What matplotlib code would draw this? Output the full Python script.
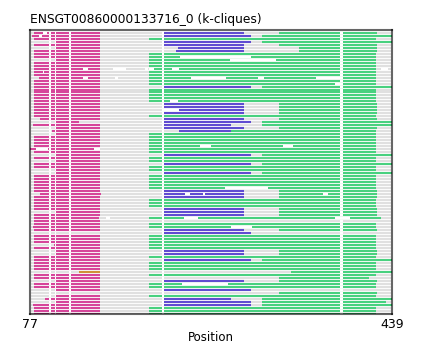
import matplotlib
matplotlib.use("Agg")
from matplotlib import pyplot as plt

# colours of the clique groups
cores = {
    'm': '#d6459a',   # magenta
    'g': '#48d17f',   # green
    'b': '#604cd1',   # blue
    'o': '#cf9038',   # gold
    'fundo': '#e0e0e0',
}

titulo = 'ENSGT00860000133716_0 (k-cliques)'
x_min, x_max = 77, 439

# start of the magenta block for each sequence (None = no magenta block)
inicio_mag = [81, 79, 81, 103, 81, 102, 81, 81, 81, 102,
              81, 81, 81, 81, 81, 86, 81, 81, 81, 81,
              81, 81, 81, 81, 81, 81, 81, 81, 81, 87,
              103, 80, 102, 99, 103, 81, 81, 81, 81, 76,
              81, 102, 81, 102, 81, 81, 102, 102, 81, 81,
              81, 81, 81, 81, 87, 81, 81, 81, 81, 81,
              102, 81, 81, 81, 81, 80, 81, None, 81, 81,
              81, 101, 81, 102, 102, 81, 81, 81, 81, 81,
              None, 81, 81, 102, 81, 81, 103, None, 103, 92,
              103, 80, 81, 81, 81]

# end of the magenta block (mostly 147)
fim_mag = {30: 126, 54: 148, 62: 146}

# layout of the right hand part of each sequence
tipo_dir = ['b', 'B', 'g', 'B', 'b', 'f', 'e', 'g', 'g', 'g',
            'g', 'g', 'g', 'g', 'g', 'g', 'g', 'g', 'B', 'g',
            'g', 'g', 'g', 'g', 'b', 'b', 'h', 'b', 'g', 'b',
            'B', 'c', 'b', 'k', 'g', 'g', 'g', 'g', 'g', 'g',
            'g', 'B', 'g', 'g', 'B', 'g', 'g', 'B', 'g', 'g',
            'g', 'g', 'g', 'b', 'b', 'b', 'g', 'g', 'g', 'b',
            'b', 'b', 'w', '-', 'g', 'g', 'b', 'x', 'g', 'g',
            'g', 'g', 'g', 'b', 'b', 'g', 'B', 'g', 'g', 'g',
            'o', 'g', 'r', 'b', 'g', 'g', 'x', 'n', 'g', 'c',
            'd', 'B', 'g', 'g', 'g']

blocos_dir = {
    'g': [('g', 196, 423)],
    'w': [('g', 196, 428)],
    'b': [('b', 211, 291), ('g', 326, 424)],
    'B': [('b', 211, 298), ('g', 309, 439)],
    'c': [('b', 211, 278), ('g', 309, 439)],
    'd': [('b', 211, 298), ('g', 309, 433)],
    'e': [('b', 223, 291), ('g', 346, 424)],
    'f': [('b', 225, 291), ('g', 346, 424)],
    'h': [('b', 226, 291), ('g', 326, 424)],
    'k': [('b', 226, 278), ('g', 278, 423)],
    'x': [('b', 211, 298)],
    'o': [('g', 338, 439)],
    'r': [('g', 326, 416)],
    'n': [('g', 326, 424)],
    '-': [],
}

# single gold block
extra = [(80, 'o', 126, 147)]

# white boundaries shared by all sequences
cortes = [(95.5, 98), (102, 103), (116, 118), (209.3, 210.8), (387, 390)]

# gaps inside single sequences
buracos = [
    (0, 90, 94),
    (1, 86, 89),
    (8, 227, 298),
    (9, 277, 323),
    (12, 130, 135), (12, 160, 173), (12, 192, 195), (12, 196, 201), (12, 219, 226), (12, 428, 435),
    (13, 90, 91),
    (15, 130, 135), (15, 162, 165), (15, 238, 273), (15, 305, 311), (15, 363, 387),
    (17, 382, 390),
    (23, 217, 225),
    (26, 211, 226),
    (38, 247, 258), (38, 330, 340),
    (39, 83, 95), (39, 141, 147),
    (52, 272, 315),
    (54, 232, 237), (54, 250, 252), (54, 370, 375),
    (62, 153, 157), (62, 231, 245), (62, 382, 397),
    (65, 278, 299),
    (84, 229, 275),
]

fig = plt.figure(figsize=(4.22, 3.45), dpi=100)
ax = fig.add_axes([30 / 422, 1 - 314.3 / 345, 362 / 422, 284.3 / 345])

n = len(inicio_mag)
lw = 1.5
linhas = list(range(n))

# grey background of every sequence
ax.hlines(linhas, 78, 438.5, colors=cores['fundo'], linewidth=lw, capstyle='butt', zorder=1)

ys, x0s, x1s, cs = [], [], [], []
for i in range(n):
    if inicio_mag[i] is not None:
        ys.append(i)
        x0s.append(inicio_mag[i])
        x1s.append(fim_mag.get(i, 147))
        cs.append(cores['m'])
    for c, a, b in blocos_dir[tipo_dir[i]]:
        ys.append(i)
        x0s.append(a)
        x1s.append(b)
        cs.append(cores[c])
for i, c, a, b in extra:
    ys.append(i)
    x0s.append(a)
    x1s.append(b)
    cs.append(cores[c])
ax.hlines(ys, x0s, x1s, colors=cs, linewidth=lw, capstyle='butt', zorder=2)

# white cuts on top
for a, b in cortes:
    ax.hlines(linhas, a, b, colors='white', linewidth=lw, capstyle='butt', zorder=3)
for i, a, b in buracos:
    ax.hlines(i, a, b, colors='white', linewidth=lw, capstyle='butt', zorder=3)

ax.set_xlim(x_min, x_max)
ax.set_ylim(94.18, -0.9)
ax.set_xticks([x_min, x_max])
ax.set_xticklabels([str(x_min), str(x_max)], fontsize=9)
ax.tick_params(axis='x', length=0, pad=3)
ax.set_yticks([])
for s in ax.spines.values():
    s.set_edgecolor((0, 0, 0, 0.6))
    s.set_linewidth(1.5)
    s.set_zorder(5)
ax.set_xlabel('Position', fontsize=8.5, labelpad=0)
ax.set_title(titulo, loc='left', fontsize=8.8, pad=5)

fig.savefig('out.png', dpi=100)
